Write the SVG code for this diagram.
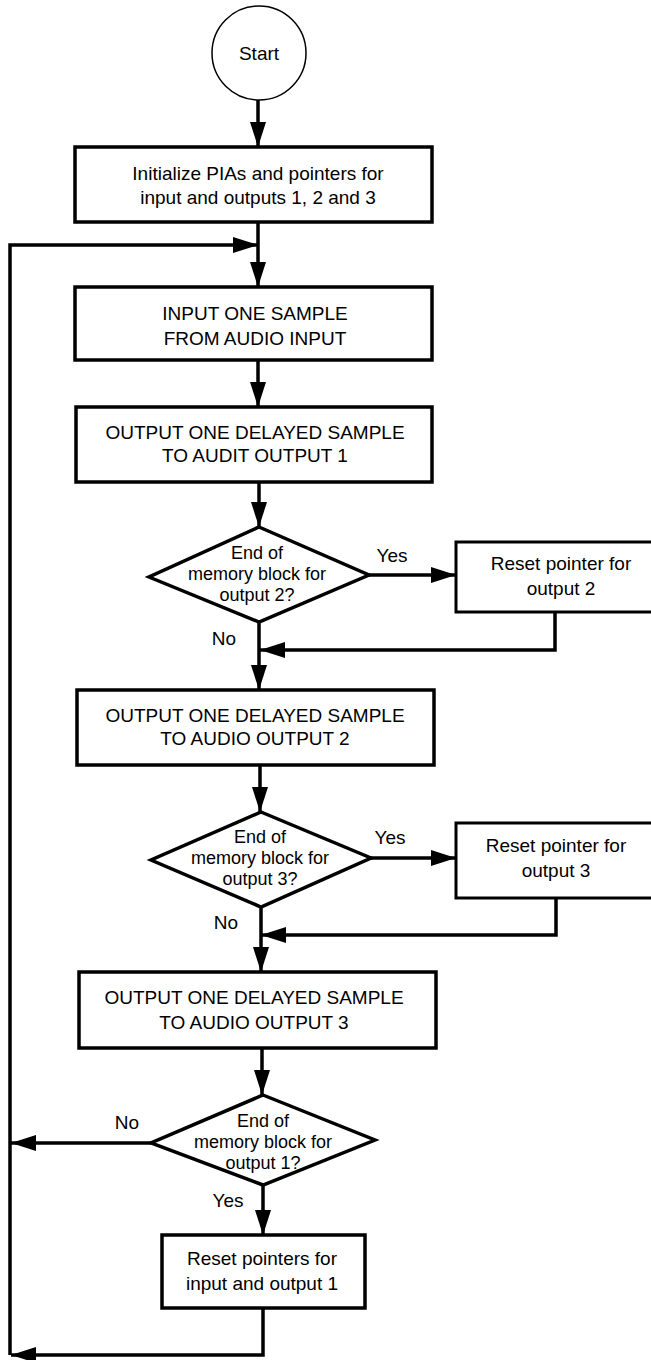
<svg xmlns="http://www.w3.org/2000/svg" width="651" height="1360" viewBox="0 0 651 1360">
<style>
.box{fill:#fff;stroke:#000;stroke-width:3.5}
.thin{fill:#fff;stroke:#000;stroke-width:3}
.ln{fill:none;stroke:#000;stroke-width:3.5}
text{font-family:"Liberation Sans",Arial,sans-serif;font-size:19px;fill:#000;text-anchor:middle}
.dt{font-size:18px}
</style>
<defs>
<marker id="ah" markerUnits="userSpaceOnUse" markerWidth="26" markerHeight="16" refX="25" refY="8" orient="auto">
<path d="M0,0 L25,8 L0,16 z" fill="#000"/>
</marker>
</defs>
<rect width="651" height="1360" fill="#fff"/>
<g id="connectors">
<line class="ln" x1="258" y1="100" x2="258" y2="147" marker-end="url(#ah)"/>
<line class="ln" x1="258" y1="222" x2="258" y2="287" marker-end="url(#ah)"/>
<polyline class="ln" points="10,1355 10,245 258,245" marker-end="url(#ah)"/>
<line class="ln" x1="258" y1="360" x2="258" y2="407" marker-end="url(#ah)"/>
<line class="ln" x1="259" y1="482" x2="259" y2="527" marker-end="url(#ah)"/>
<line class="ln" x1="369" y1="575" x2="456" y2="575" marker-end="url(#ah)"/>
<polyline class="ln" points="555,612 555,650 260,650" marker-end="url(#ah)"/>
<line class="ln" x1="259" y1="622" x2="259" y2="690" marker-end="url(#ah)"/>
<line class="ln" x1="260" y1="765" x2="260" y2="812" marker-end="url(#ah)"/>
<line class="ln" x1="371" y1="858" x2="456" y2="858" marker-end="url(#ah)"/>
<polyline class="ln" points="556,898 556,935 261,935" marker-end="url(#ah)"/>
<line class="ln" x1="261" y1="907" x2="261" y2="972" marker-end="url(#ah)"/>
<line class="ln" x1="262" y1="1048" x2="262" y2="1095" marker-end="url(#ah)"/>
<line class="ln" x1="151" y1="1143" x2="11" y2="1143" marker-end="url(#ah)"/>
<line class="ln" x1="263" y1="1185" x2="263" y2="1235" marker-end="url(#ah)"/>
<polyline class="ln" points="263,1308 263,1355 11,1355" marker-end="url(#ah)"/>
<text x="392" y="562">Yes</text>
<text x="224" y="645">No</text>
<text x="390" y="844">Yes</text>
<text x="226" y="929">No</text>
<text x="127" y="1129">No</text>
<text x="228" y="1207">Yes</text>
</g>
<g id="start">
<circle cx="259" cy="53" r="47" fill="#fff" stroke="#000" stroke-width="1.5"/>
<text x="259" y="60" font-size="18">Start</text>
</g>
<g id="init">
<rect class="box" x="75" y="147" width="357" height="75"/>
<text x="258" y="180">Initialize PIAs and pointers for</text>
<text x="258" y="204">input and outputs 1, 2 and 3</text>
</g>
<g id="input">
<rect class="box" x="75" y="287" width="357" height="73"/>
<text x="255" y="320">INPUT ONE SAMPLE</text>
<text x="255" y="345">FROM AUDIO INPUT</text>
</g>
<g id="out1">
<rect class="box" x="76" y="407" width="356" height="75"/>
<text x="255" y="439">OUTPUT ONE DELAYED SAMPLE</text>
<text x="255" y="462">TO AUDIT OUTPUT 1</text>
</g>
<g id="dec1">
<polygon class="box" points="259,527 369,575 259,622 149,577"/>
<text class="dt" x="257" y="559">End of</text>
<text class="dt" x="257" y="580">memory block for</text>
<text class="dt" x="257" y="601">output 2?</text>
</g>
<g id="reset1">
<rect class="thin" x="456" y="542" width="200" height="70"/>
<text x="561" y="570">Reset pointer for</text>
<text x="561" y="595">output 2</text>
</g>
<g id="out2">
<rect class="box" x="77" y="690" width="357" height="75"/>
<text x="255" y="722">OUTPUT ONE DELAYED SAMPLE</text>
<text x="255" y="745">TO AUDIO OUTPUT 2</text>
</g>
<g id="dec2">
<polygon class="box" points="261,812 371,858 261,907 151,860"/>
<text class="dt" x="260" y="843">End of</text>
<text class="dt" x="260" y="864">memory block for</text>
<text class="dt" x="260" y="885">output 3?</text>
</g>
<g id="reset2">
<rect class="thin" x="456" y="823" width="200" height="75"/>
<text x="556" y="852">Reset pointer for</text>
<text x="556" y="877">output 3</text>
</g>
<g id="out3">
<rect class="box" x="79" y="972" width="357" height="76"/>
<text x="254" y="1004">OUTPUT ONE DELAYED SAMPLE</text>
<text x="254" y="1029">TO AUDIO OUTPUT 3</text>
</g>
<g id="dec3">
<polygon class="box" points="263,1095 375,1140 263,1185 151,1143"/>
<text class="dt" x="263" y="1127">End of</text>
<text class="dt" x="263" y="1148">memory block for</text>
<text class="dt" x="263" y="1169">output 1?</text>
</g>
<g id="reset3">
<rect class="box" x="162" y="1235" width="203" height="73"/>
<text x="262" y="1265">Reset pointers for</text>
<text x="262" y="1290">input and output 1</text>
</g>
</svg>
